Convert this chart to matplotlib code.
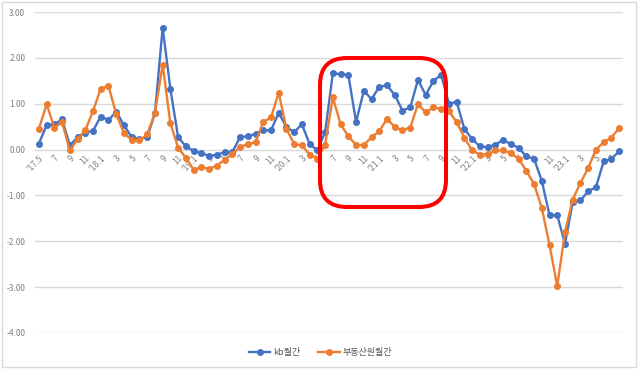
import matplotlib
matplotlib.use("Agg")
import matplotlib.pyplot as plt
from matplotlib.patches import FancyBboxPatch, Rectangle

plt.rcParams['font.family'] = ['Noto Sans CJK KR', 'DejaVu Sans']

# monthly change (%), '17.5 ~ '23.8
kb = [0.13, 0.53, 0.55, 0.66, 0.09, 0.27, 0.37, 0.41, 0.72, 0.64,
      0.83, 0.53, 0.27, 0.23, 0.27, 0.79, 2.66, 1.32, 0.27, 0.07,
      -0.03, -0.08, -0.14, -0.11, -0.06, -0.06, 0.27, 0.29, 0.34, 0.42,
      0.42, 0.80, 0.49, 0.38, 0.55, 0.12, -0.02, 0.38, 1.67, 1.64,
      1.63, 0.60, 1.28, 1.10, 1.37, 1.40, 1.19, 0.85, 0.92, 1.52,
      1.19, 1.50, 1.63, 1.00, 1.04, 0.45, 0.23, 0.07, 0.05, 0.11,
      0.21, 0.12, 0.04, -0.15, -0.20, -0.68, -1.43, -1.43, -2.05, -1.15,
      -1.11, -0.91, -0.82, -0.26, -0.20, -0.04]
reb = [0.45, 0.99, 0.48, 0.60, -0.02, 0.23, 0.42, 0.84, 1.33, 1.39,
       0.77, 0.36, 0.21, 0.20, 0.33, 0.80, 1.85, 0.57, 0.04, -0.18,
       -0.44, -0.39, -0.42, -0.35, -0.22, -0.10, 0.05, 0.12, 0.16, 0.60,
       0.70, 1.24, 0.45, 0.12, 0.09, -0.11, -0.20, 0.11, 1.14, 0.55,
       0.29, 0.10, 0.10, 0.27, 0.40, 0.67, 0.49, 0.42, 0.48, 0.99,
       0.81, 0.92, 0.89, 0.84, 0.60, 0.26, -0.02, -0.11, -0.10, -0.02,
       -0.02, -0.08, -0.20, -0.46, -0.75, -1.27, -2.08, -2.98, -1.80, -1.09,
       -0.73, -0.40, 0.00, 0.16, 0.26, 0.47]
tick_labels = ["'17.5", "7", "9", "11",
               "'18.1", "3", "5", "7", "9", "11",
               "'19.1", "3", "5", "7", "9", "11",
               "'20.1", "3", "5", "7", "9", "11",
               "'21.1", "3", "5", "7", "9", "11",
               "'22.1", "3", "5", "7", "9", "11",
               "'23.1", "3", "5", "7"]
y_ticks = [3, 2, 1, 0, -1, -2, -3, -4]

x = list(range(len(kb)))

fig = plt.figure(figsize=(6.41, 3.71), dpi=100)
ax = fig.add_axes([35 / 641, 38 / 371, 588 / 641, 321 / 371])

ax.plot(x, kb, color='#4472C4', lw=1.7, marker='o', ms=4, label='kb월간', zorder=3)
ax.plot(x, reb, color='#ED7D31', lw=1.7, marker='o', ms=4, label='부동산원월간', zorder=3)

# category axis crosses at 0 (set before tick labels, it resets ticks)
for s in ['top', 'right', 'left']:
    ax.spines[s].set_visible(False)
ax.spines['bottom'].set_position(('data', 0))
ax.spines['bottom'].set_color('#D9D9D9')

ax.set_xlim(-0.5, len(kb) - 0.5)
ax.set_ylim(-4, 3)
ax.set_yticks(y_ticks)
ax.set_yticklabels(['%.2f' % v for v in y_ticks], fontsize=6, color='#808080')
ax.set_xticks(x[::2])
ax.set_xticklabels(tick_labels, fontsize=6, color='#808080', rotation=45,
                   ha='right', va='top', rotation_mode='anchor')
ax.tick_params(length=0)
ax.tick_params(axis='y', pad=7)
ax.tick_params(axis='x', pad=3)
ax.grid(axis='y', color='#D9D9D9', lw=1)
ax.set_axisbelow(True)

leg = fig.legend(loc='center', bbox_to_anchor=(0.5, 18 / 371), ncol=2, frameon=False,
                 fontsize=6.5, handlelength=2.4, columnspacing=2.0, handletextpad=0.3)
for t in leg.get_texts():
    t.set_color('#595959')

# highlight box
box = FancyBboxPatch((3.20, 1.64), 1.26, 1.49, boxstyle="round,pad=0,rounding_size=0.27",
                     transform=fig.dpi_scale_trans, fill=False, ec='#FF0000', lw=2.9)
fig.add_artist(box)

# chart border
fig.add_artist(Rectangle((0.02, 0.04), 6.34, 3.65, transform=fig.dpi_scale_trans,
                         fill=False, ec='#D9D9D9', lw=1))

fig.savefig('out.png', dpi=100)
